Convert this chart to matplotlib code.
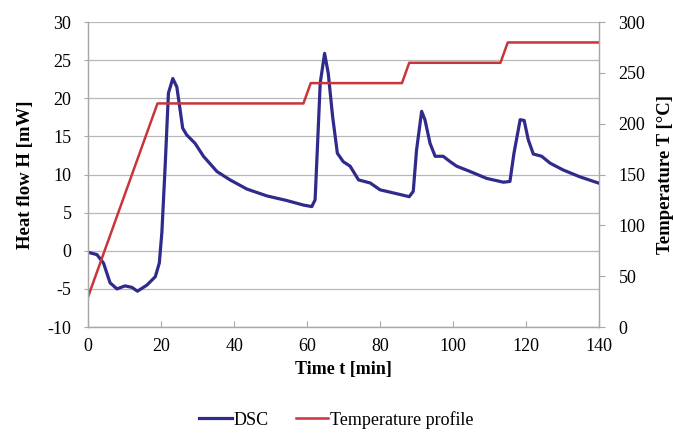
import matplotlib
matplotlib.use("Agg")
import matplotlib.pyplot as plt
from matplotlib.lines import Line2D

plt.rcParams['font.family'] = ['Liberation Serif', 'DejaVu Serif']
plt.rcParams['axes.unicode_minus'] = False

# DSC-Kurve (Zeit in min, Wärmefluss in mW)
dsc_t = [0, 2.4, 4.2, 6.0, 7.9, 10.1, 12.0, 13.5, 16.1, 18.4, 19.5, 20.2, 21.1, 22.0,
         23.2, 24.3, 25.2, 25.9, 27.0, 29.3, 31.6, 35.3, 38.9, 43.5, 49.0, 54.4, 59.0,
         61.3, 62.2, 62.8, 63.6, 64.8, 65.8, 67.0, 68.3, 69.9, 71.8, 74.1, 77.3, 80.0,
         82.7, 88.0, 89.1, 90.0, 91.4, 92.3, 93.7, 95.1, 97.3, 99.2, 101.0, 104.7,
         109.2, 113.8, 115.6, 116.7, 118.4, 119.5, 120.6, 122.0, 124.3, 126.6, 130.2,
         134.8, 139.8]
dsc_h = [-0.2, -0.5, -1.6, -4.2, -5.0, -4.6, -4.8, -5.3, -4.5, -3.4, -1.6, 2.4, 11.1, 20.7,
         22.6, 21.5, 18.5, 16.1, 15.2, 14.1, 12.4, 10.4, 9.3, 8.1, 7.2, 6.6, 6.0,
         5.8, 6.7, 13.2, 22.0, 25.9, 23.3, 17.6, 12.8, 11.7, 11.1, 9.3, 8.9, 8.0,
         7.7, 7.1, 7.8, 13.2, 18.3, 17.2, 14.1, 12.4, 12.4, 11.7, 11.1, 10.4,
         9.5, 9.0, 9.1, 12.8, 17.2, 17.1, 14.6, 12.7, 12.4, 11.5, 10.6,
         9.7, 8.9]

# Temperaturprofil
temp_t = [0, 19, 59, 61, 86, 88, 113, 115, 140]
temp_T = [30, 220, 220, 240, 240, 260, 260, 280, 280]

x_ticks = [0, 20, 40, 60, 80, 100, 120, 140]
y_ticks = [-10, -5, 0, 5, 10, 15, 20, 25, 30]
y2_ticks = [0, 50, 100, 150, 200, 250, 300]

dsc_color = '#2f2a8c'
temp_color = '#c8353a'
grid_color = '#b8b8b8'
spine_color = '#a8a8a8'

fig = plt.figure(figsize=(6.73, 4.34), dpi=100)
ax = fig.add_axes([0.131, 0.2465, 0.759, 0.7025])
ax2 = ax.twinx()

ax.plot(dsc_t, dsc_h, color=dsc_color, linewidth=2.3, solid_joinstyle='round', zorder=3)
ax2.plot(temp_t, temp_T, color=temp_color, linewidth=1.8, zorder=2)

ax.set_xlim(0, 140)
ax.set_ylim(-10, 30)
ax2.set_ylim(0, 300)
ax.set_xticks(x_ticks)
ax.set_yticks(y_ticks)
ax2.set_yticks(y2_ticks)

ax.yaxis.grid(True, color=grid_color, linewidth=0.9)
ax.set_axisbelow(True)

for a in (ax, ax2):
    for s in a.spines.values():
        s.set_color(spine_color)
        s.set_linewidth(0.9)
ax.spines['top'].set_visible(False)
ax2.spines['top'].set_visible(False)

ax.tick_params(axis='x', direction='in', length=4, color=spine_color, labelsize=13, pad=8)
ax.tick_params(axis='y', direction='out', length=3, color=spine_color, labelsize=13, pad=9)
ax2.tick_params(axis='y', direction='out', length=4, color=spine_color, labelsize=13, pad=10)

ax.set_xlabel('Time t [min]', fontsize=13, fontweight='bold', labelpad=4)
ax.set_ylabel('Heat flow H [mW]', fontsize=13.5, fontweight='bold', labelpad=10)
ax2.set_ylabel('Temperature T [°C]', fontsize=13.5, fontweight='bold', labelpad=8)

handles = [Line2D([], [], color=dsc_color, linewidth=2.3),
           Line2D([], [], color=temp_color, linewidth=1.8)]
fig.legend(handles, ['DSC', 'Temperature profile'], loc='lower center',
           bbox_to_anchor=(0.5, -0.025), ncol=2, frameon=False, fontsize=13,
           handlelength=1.8, handletextpad=0.1, columnspacing=1.5)

fig.savefig('out.png', dpi=100, facecolor='white')
